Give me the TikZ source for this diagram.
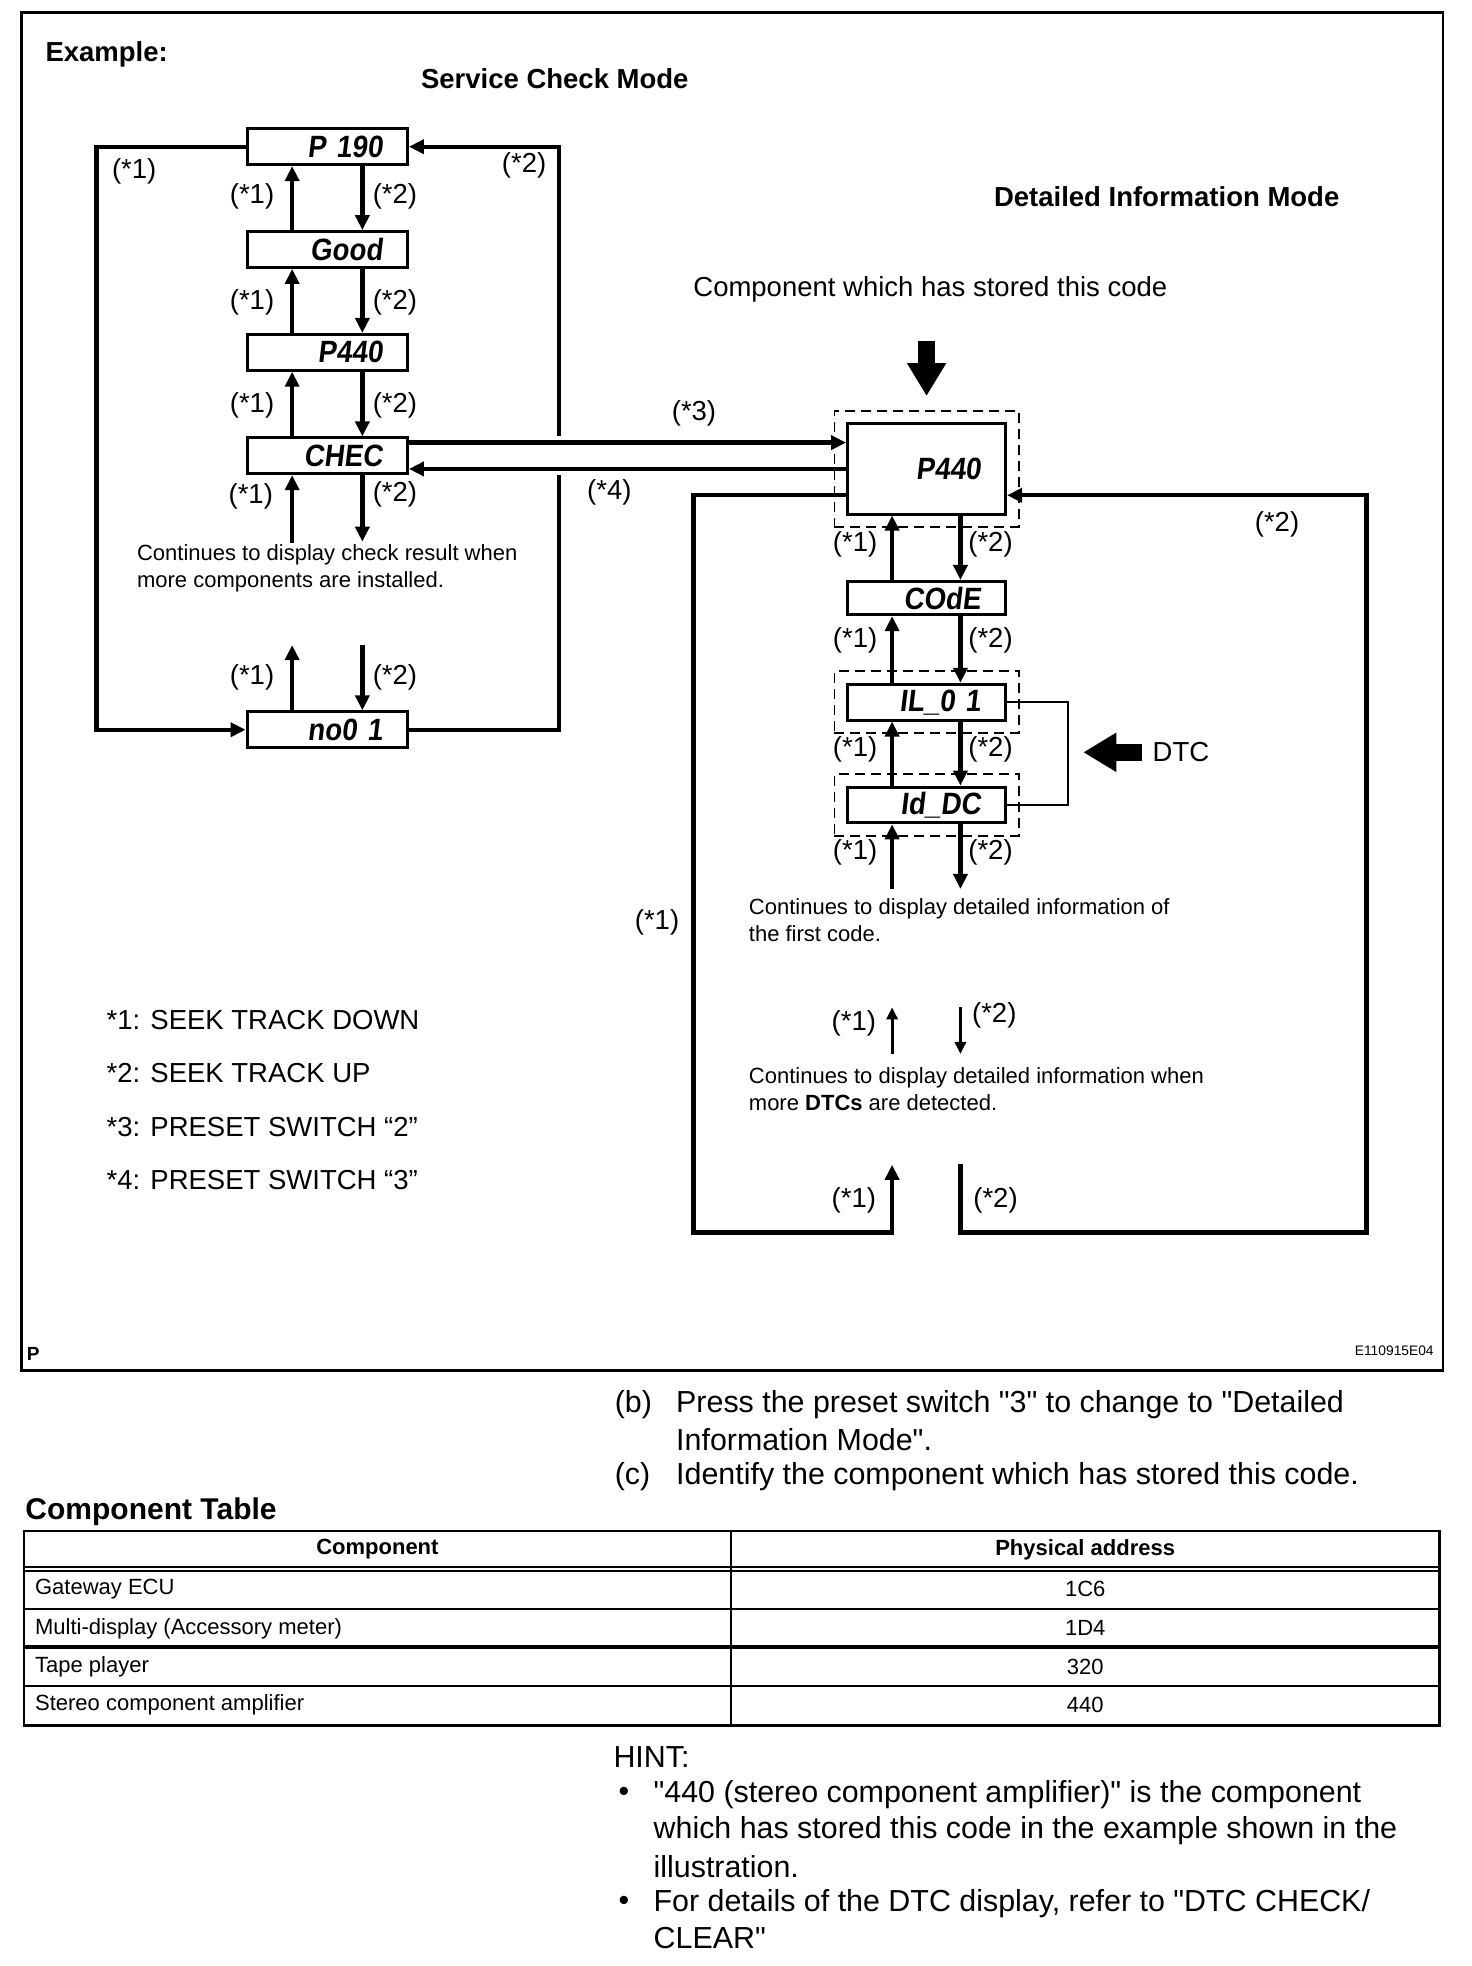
\documentclass[tikz,border=0pt]{standalone}
\usepackage{fontspec}
\setmainfont{Liberation Sans}[Ligatures=TeXOff]
\newfontfamily\segfont[FakeSlant=0.12, FakeStretch=0.9]{Liberation Sans}
\usetikzlibrary{arrows.meta, positioning, calc, fit}
\tikzset{
  lcd/.style={rectangle, draw, line width=1.5pt, minimum height=17.9pt,
    text width=55.2pt, align=right, inner xsep=12.5pt, inner ysep=0pt,
    font=\segfont\bfseries\fontsize{15.4}{15.4}\selectfont},
  dashbox/.style={draw, dash pattern=on 5pt off 3pt, line width=0.9pt, inner sep=5.8pt},
  conn/.style={line width=2.2pt, -{Triangle[length=7.5pt,width=7pt]}},
  thinarrow/.style={line width=1.6pt, -{Triangle[length=6pt,width=5.5pt]}},
  blockarrow/.style={line width=8.2pt, -{Triangle[length=16.5pt,width=18.5pt]}},
  lbl/.style={font=\fontsize{13.75}{16}\selectfont, inner sep=0pt},
  modetitle/.style={font=\bfseries\fontsize{13.75}{16}\selectfont, inner sep=0pt},
  note/.style={font=\fontsize{11}{13.5}\selectfont, align=left, anchor=west, inner sep=0pt},
  bodytext/.style={font=\fontsize{15.2}{18}\selectfont, anchor=west, inner sep=0pt},
  cell/.style={font=\fontsize{11}{13}\selectfont, inner sep=0pt},
  cellhead/.style={font=\bfseries\fontsize{11}{13}\selectfont, inner sep=0pt}
}
\begin{document}
\begin{tikzpicture}[x=0.6269pt, y=-0.6269pt]
  \fill[white] (0,0) rectangle (1174,1568);
  % Frame and titles
  \draw[line width=1.2pt] (17,10) rectangle (1151,1093);
  \node[modetitle, anchor=west] at (36,43) {Example:};
  \node[modetitle] at (442.5,63) {Service Check Mode};
  \node[modetitle] at (930.5,157) {Detailed Information Mode};
  \node[lbl] (stored) at (742,231) {Component which has stored this code};

  % Service check mode displays
  \node[lcd] (p190) at (261,117) {P 190};
  \node[lcd] (good) at (261,199) {Good};
  \node[lcd] (p440) at (261,281) {P440};
  \node[lcd] (chec) at (261,363.5) {CHEC};
  \node[lcd] (no01) at (261,582) {no0 1};

  % Outer loops
  \coordinate (lloop) at (77,582);
  \coordinate (rloop) at (446,117);
  \draw[conn] (p190.west) -| (lloop) -- (no01.west);
  \draw[conn] (no01.east) -| (rloop) -- (p190.east);
  \node[lbl] at (107,137) {(*1)};
  \node[lbl] at (418,132) {(*2)};

  % Steps between displays
  \foreach \a/\b/\y in {p190/good/157, good/p440/241, p440/chec/323} {
    \draw[conn] ($(\b.north)+(-28,0)$) -- ($(\a.south)+(-28,0)$);
    \draw[conn] ($(\a.south)+(28,0)$) -- ($(\b.north)+(28,0)$);
    \node[lbl] at (201,\y) {(*1)};
    \node[lbl] at (315,\y) {(*2)};
  }
  \coordinate (chU) at (233,433);
  \coordinate (chD) at (289,432);
  \draw[conn] (chU) -- (chU |- chec.south);
  \draw[conn] (chD |- chec.south) -- (chD);
  \node[lbl] at (200,396) {(*1)};
  \node[lbl] at (315,394) {(*2)};
  \node[note] at (109,453.4) {Continues to display check result when\\more components are installed.};
  \coordinate (noU) at (233,514.5);
  \coordinate (noD) at (289,514.5);
  \draw[conn] (noU |- no01.north) -- (noU);
  \draw[conn] (noD) -- (noD |- no01.north);
  \node[lbl] at (201,540) {(*1)};
  \node[lbl] at (315,540) {(*2)};

  % Detailed information mode displays
  \node[lcd, text width=54pt, minimum height=45.1pt] (big) at (739,374) {P440};
  \node[dashbox, fit=(big)] (bigframe) {};
  \node[lcd, text width=54pt, minimum height=16.6pt] (code) at (739,477) {COdE};
  \node[lcd, text width=54pt] (il) at (739,560) {IL\_0 1};
  \node[dashbox, fit=(il)] (ilframe) {};
  \node[lcd, text width=54pt] (id) at (739,642) {Id\_DC};
  \node[dashbox, fit=(id)] (idframe) {};

  % Mode change
  \fill[white] (441,348) rectangle (451,379);
  \coordinate (s3) at ($(chec.east)+(0,-10.5)$);
  \coordinate (s4) at ($(chec.east)+(0,10.5)$);
  \draw[conn] (s3) -- (s3 -| big.west);
  \draw[conn] (s4 -| big.west) -- (s4);
  \node[lbl] at (553.5,330) {(*3)};
  \node[lbl] at (486,393) {(*4)};
  \coordinate (toptail) at (739,272);
  \draw[blockarrow] (toptail) -- ($(bigframe.north)+(0,-11)$);

  \foreach \a/\b/\y in {big/code/434, code/il/511, il/id/598} {
    \draw[conn] ($(\b.north)+(-27.5,0)$) -- ($(\a.south)+(-27.5,0)$);
    \draw[conn] ($(\a.south)+(27,0)$) -- ($(\b.north)+(27,0)$);
    \node[lbl] at (682,\y) {(*1)};
    \node[lbl] at (790,\y) {(*2)};
  }
  \coordinate (idU) at (711.5,709);
  \coordinate (idD) at (766,709);
  \draw[conn] (idU) -- (idU |- id.south);
  \draw[conn] (idD |- id.south) -- (idD);
  \node[lbl] at (682,680) {(*1)};
  \node[lbl] at (790,680) {(*2)};
  \node[note] at (597,734) {Continues to display detailed information of\\the first code.};

  % DTC bracket
  \coordinate (brk) at (852,600);
  \draw[line width=1.1pt] (il.east) -- (il.east -| brk) -- (id.east -| brk) -- (id.east);
  \node[lbl, anchor=west] (dtc) at (919,600) {DTC};
  \coordinate (dtctail) at (911,600);
  \coordinate (dtctip) at (864,600);
  \draw[blockarrow] (dtctail) -- (dtctip);

  % More DTCs
  \coordinate (m1a) at (711.5,840.6);
  \coordinate (m1b) at (711.5,803.4);
  \coordinate (m2a) at (766,803.4);
  \coordinate (m2b) at (766,840.6);
  \draw[thinarrow] (m1a) -- (m1b);
  \draw[thinarrow] (m2a) -- (m2b);
  \node[lbl] at (681,816) {(*1)};
  \node[lbl] at (793,810) {(*2)};
  \node[note] at (597,868.5) {Continues to display detailed information when\\more \textbf{DTCs} are detected.};

  % Right loop
  \coordinate (q1) at ($(big.west)+(0,21)$);
  \coordinate (q2) at ($(big.east)+(0,21)$);
  \coordinate (lcorner) at (553,983);
  \coordinate (up1) at (711.5,929);
  \coordinate (dn2) at (766,928);
  \coordinate (rcorner) at (1090,983);
  \draw[conn] (q1) -| (lcorner) -| (up1);
  \draw[conn] (dn2) |- (rcorner) |- (q2);
  \node[lbl] at (681,957) {(*1)};
  \node[lbl] at (794,957) {(*2)};
  \node[lbl] at (1018.5,418.5) {(*2)};
  \node[lbl] at (524,736) {(*1)};

  % Legend
  \node[lbl, anchor=west] at (84.7,813.5) {*1: SEEK TRACK DOWN};
  \node[lbl, anchor=west] at (84.7,856) {*2: SEEK TRACK UP};
  \node[lbl, anchor=west] at (84.7,898.6) {*3: PRESET SWITCH “2”};
  \node[lbl, anchor=west] at (84.7,941) {*4: PRESET SWITCH “3”};
  \node[font=\bfseries\fontsize{9.5}{10}\selectfont, inner sep=0pt] at (26.5,1080) {P};
  \node[font=\fontsize{6.9}{8}\selectfont, inner sep=0pt] at (1112,1077) {E110915E04};

  % Text below the figure
  \node[bodytext] at (490,1120) {(b)};
  \node[bodytext] at (539,1120) {Press the preset switch "3" to change to "Detailed};
  \node[bodytext] at (539,1148.5) {Information Mode".};
  \node[bodytext] at (490,1177.8) {(c)};
  \node[bodytext] at (539,1177.8) {Identify the component which has stored this code.};
  \node[bodytext, font=\bfseries\fontsize{15}{18}\selectfont] at (20,1205.7) {Component Table};

  % Component table
  \draw[line width=1.3pt] (19,1221) rectangle (1148,1376.4);
  \foreach \y/\w in {1249.5/1pt, 1253/1pt, 1283/1.1pt, 1313.5/1.8pt, 1344.5/1.1pt}
    \draw[line width=\w] (19,\y) -- (1148,\y);
  \draw[line width=1pt] (583,1221) -- (583,1376.4);
  \node[cellhead] at (301,1235.7) {Component};
  \node[cellhead] at (865.5,1235.7) {Physical address};
  \foreach \y/\c/\v in {1267.6/Gateway ECU/1C6, 1298.7/Multi-display (Accessory meter)/1D4,
      1329.3/Tape player/320, 1360/Stereo component amplifier/440} {
    \node[cell, anchor=west] at (27.7,\y) {\c};
    \node[cell] at (865.5,\y) {\v};
  }

  % Hint
  \node[bodytext] at (489,1401) {HINT:};
  \node[bodytext] at (493,1431) {•};
  \node[bodytext] at (521,1431) {"440 (stereo component amplifier)" is the component};
  \node[bodytext] at (521,1460) {which has stored this code in the example shown in the};
  \node[bodytext] at (521,1489) {illustration.};
  \node[bodytext] at (493,1518) {•};
  \node[bodytext] at (521,1518) {For details of the DTC display, refer to "DTC CHECK/};
  \node[bodytext] at (521,1546) {CLEAR"};
\end{tikzpicture}
\end{document}
